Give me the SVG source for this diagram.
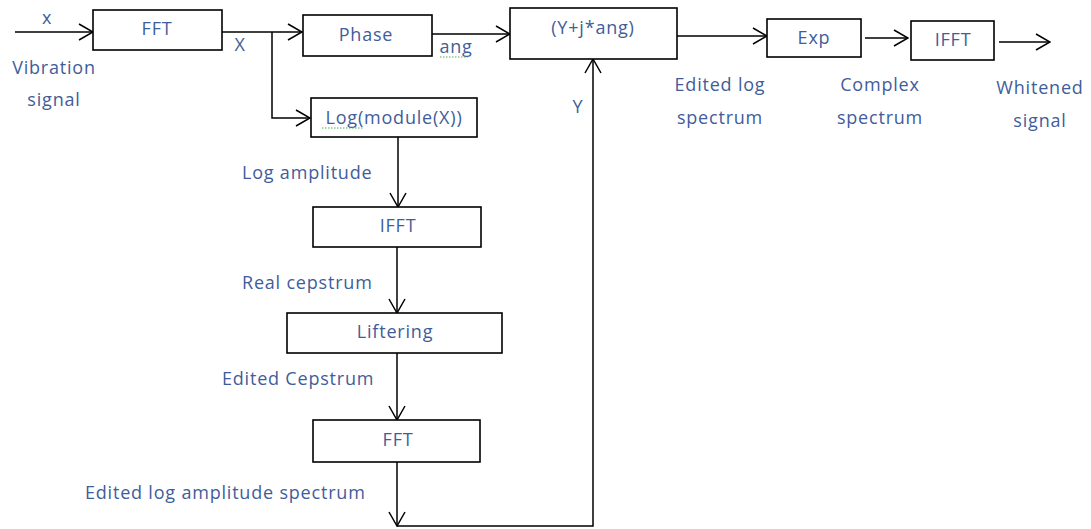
<svg xmlns="http://www.w3.org/2000/svg" width="1091" height="529" viewBox="0 0 1091 529">
<style>
.box{fill:#fff;stroke:#000;stroke-width:1.6}
.ln{fill:none;stroke:#000;stroke-width:1.5}
.arr{marker-end:url(#ah)}
text{font-family:"Open Sans","Liberation Sans",sans-serif;font-size:18px;letter-spacing:0.8px;fill:#3f5d9a}
.c{text-anchor:middle}
.sq{fill:none;stroke:#4caf50;stroke-width:1;stroke-dasharray:1.5 1.5}
</style>
<defs>
<marker id="ah" viewBox="0 0 16 18" refX="15" refY="9" markerWidth="16" markerHeight="18" markerUnits="userSpaceOnUse" orient="auto">
<path d="M1,1 L15,9 L1,17" fill="none" stroke="#000" stroke-width="1.5"/>
</marker>
</defs>
<rect width="1091" height="529" fill="#fff"/>
<g id="connectors">
<path class="ln arr" d="M15,32 H93"/>
<path class="ln arr" d="M222,32 H302"/>
<path class="ln arr" d="M272,32 V118 H310"/>
<path class="ln arr" d="M432,34 H510"/>
<path class="ln arr" d="M677,36 H767"/>
<path class="ln arr" d="M865,38 H908"/>
<path class="ln arr" d="M999,42 H1050"/>
<path class="ln arr" d="M398,137 V207"/>
<path class="ln arr" d="M397,247 V313"/>
<path class="ln arr" d="M397,353 V420"/>
<path class="ln arr" d="M397,462 V526"/>
<path class="ln arr" d="M397,526 H593 V59"/>
</g>
<g id="labels">
<text x="47" y="24" class="c">x</text>
<text x="54" y="74" class="c">Vibration</text>
<text x="54" y="106" class="c">signal</text>
<text x="240" y="51" class="c">X</text>
<text x="456" y="53" class="c">ang</text>
<path class="sq" d="M440,57 H468"/>
<text x="578" y="113" class="c">Y</text>
<text x="720" y="91" class="c">Edited log</text>
<text x="720" y="124" class="c">spectrum</text>
<text x="880" y="91" class="c">Complex</text>
<text x="880" y="124" class="c">spectrum</text>
<text x="1040" y="94" class="c">Whitened</text>
<text x="1040" y="127" class="c">signal</text>
<text x="242" y="179">Log amplitude</text>
<text x="242" y="289">Real cepstrum</text>
<text x="222" y="385">Edited Cepstrum</text>
<text x="85" y="499">Edited log amplitude spectrum</text>
</g>
<g id="fft1"><rect class="box" x="93" y="10" width="129" height="40"/><text x="157" y="35" class="c">FFT</text></g>
<g id="phase"><rect class="box" x="303" y="15" width="129" height="41"/><text x="366" y="41" class="c">Phase</text></g>
<g id="combine"><rect class="box" x="510" y="8" width="167" height="51"/><text x="593" y="34" class="c">(Y+j*ang)</text></g>
<g id="log"><rect class="box" x="311" y="98" width="166" height="39"/><text x="394" y="124" class="c">Log(module(X))</text><path class="sq" d="M322,128 H364"/></g>
<g id="exp"><rect class="box" x="767" y="19" width="94" height="38"/><text x="814" y="44" class="c">Exp</text></g>
<g id="ifft2"><rect class="box" x="911" y="21" width="83" height="39"/><text x="953" y="46" class="c">IFFT</text></g>
<g id="ifft1"><rect class="box" x="313" y="207" width="168" height="40"/><text x="398" y="232" class="c">IFFT</text></g>
<g id="liftering"><rect class="box" x="287" y="313" width="215" height="40"/><text x="395" y="338" class="c">Liftering</text></g>
<g id="fft2"><rect class="box" x="313" y="420" width="167" height="42"/><text x="398" y="446" class="c">FFT</text></g>
</svg>
